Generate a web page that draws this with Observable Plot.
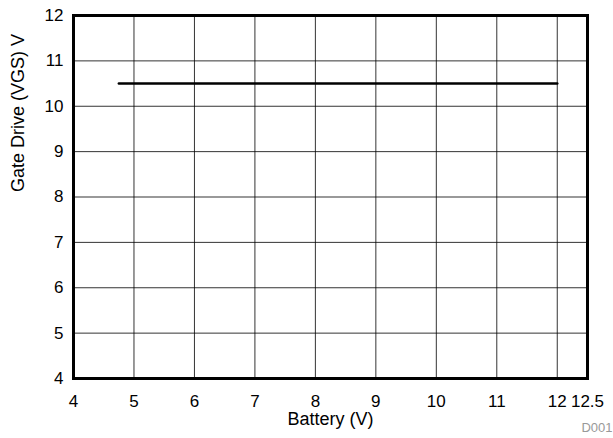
<!DOCTYPE html>
<html>
<head>
<meta charset="utf-8">
<script src="https://cdn.jsdelivr.net/npm/d3@7"></script>
<script src="https://cdn.jsdelivr.net/npm/@observablehq/plot@0.6"></script>
<style>
  body { margin: 0; background: #fff; }
  #chart svg { display: block; }
  #chart svg g[aria-label*="axis"] { font-size: 17px !important; }
  #chart svg g.lbl { font-size: 18px !important; }
  #chart svg g.fig { font-size: 13px !important; }
</style>
</head>
<body>
<div id="chart"></div>
<script>
const batteryV = [4.75, 12];
const gateV = [10.5, 10.5];
const xTicks = [4, 5, 6, 7, 8, 9, 10, 11, 12, 12.5];
const xGrid = [5, 6, 7, 8, 9, 10, 11, 12];
const yTicks = [4, 5, 6, 7, 8, 9, 10, 11, 12];
const yGrid = [5, 6, 7, 8, 9, 10, 11];
const xLabel = "Battery (V)";
const yLabel = "Gate Drive (VGS) V";
const figId = "D001";

const data = batteryV.map((b, i) => ({b, g: gateV[i]}));

const chart = Plot.plot({
  width: 613,
  height: 438,
  marginLeft: 73,
  marginTop: 15,
  marginRight: 26,
  marginBottom: 60,
  style: {fontFamily: "'Liberation Sans', Arial, sans-serif", fontSize: "17px", color: "#000", background: "#fff"},
  x: {domain: [4, 12.5]},
  y: {domain: [4, 12]},
  marks: [
    Plot.gridX(xGrid, {stroke: "#000", strokeOpacity: 0.8, strokeWidth: 1}),
    Plot.gridY(yGrid, {stroke: "#000", strokeOpacity: 0.8, strokeWidth: 1}),
    Plot.axisX(xTicks, {tickSize: 0, tickPadding: 16, fontSize: 17, tickFormat: d => String(d), label: null}),
    Plot.axisY(yTicks, {tickSize: 0, tickPadding: 10, fontSize: 17, tickFormat: d => String(d), label: null}),
    Plot.text([xLabel], {text: d => d, frameAnchor: "bottom", dy: 46, fontSize: 18, fill: "#000", className: "lbl"}),
    Plot.text([yLabel], {text: d => d, frameAnchor: "left", dx: -55, dy: -5, rotate: -90, fontSize: 18, fill: "#000", className: "lbl"}),
    Plot.line(data, {x: "b", y: "g", stroke: "#000", strokeWidth: 2.5}),
    Plot.frame({stroke: "#000", strokeWidth: 3}),
    Plot.text([figId], {text: d => d, frameAnchor: "bottom-right", dx: 25, dy: 53, textAnchor: "end", fill: "#999", fontSize: 13, className: "fig"})
  ]
});
document.getElementById("chart").appendChild(chart);
</script>
</body>
</html>
